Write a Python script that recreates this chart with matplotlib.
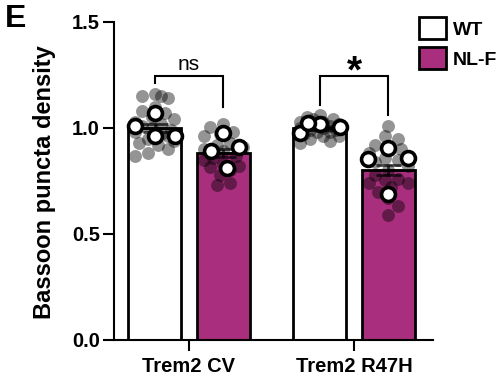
import numpy as np
import matplotlib
matplotlib.use("Agg")
import matplotlib.pyplot as plt
from matplotlib.patches import Patch

plt.rcParams['font.family'] = ['Liberation Sans', 'DejaVu Sans']

# ---- data ----
groups = ["Trem2 CV", "Trem2 R47H"]
genotypes = ["WT", "NL-F"]
bar_means = {"WT": [1.00, 1.00], "NL-F": [0.882, 0.80]}

wt_cv_points = [1.16, 1.15, 1.14, 1.15, 1.10, 1.08, 1.07, 1.05, 1.04, 1.02, 1.01, 1.00,
                0.99, 0.98, 0.97, 0.95, 0.94, 0.93, 0.92, 0.90, 0.88, 0.87, 0.96, 1.03]
nlf_cv_points = [1.02, 1.005, 0.98, 0.97, 0.96, 0.93, 0.92, 0.91, 0.90, 0.89, 0.87, 0.86,
                 0.85, 0.83, 0.82, 0.816, 0.80, 0.78, 0.74, 0.73]
wt_r47h_points = [1.06, 1.05, 1.04, 1.04, 1.03, 1.03, 1.02, 1.02, 1.01, 1.01, 1.00, 1.00,
                  0.99, 0.99, 0.98, 0.98, 0.97, 0.96, 0.96, 0.95, 0.94, 0.93]
nlf_r47h_points = [1.01, 0.96, 0.95, 0.92, 0.91, 0.90, 0.88, 0.86, 0.85, 0.84, 0.82, 0.80,
                   0.78, 0.76, 0.755, 0.74, 0.74, 0.72, 0.70, 0.67, 0.63, 0.59]

wt_cv_animals = [1.07, 1.01, 0.96, 0.96]
nlf_cv_animals = [0.976, 0.89, 0.91, 0.81]
wt_r47h_animals = [1.02, 0.976, 1.005, 1.024]
nlf_r47h_animals = [0.906, 0.854, 0.858, 0.689]

sig_labels = ["ns", "*"]

points = {"WT": [wt_cv_points, wt_r47h_points], "NL-F": [nlf_cv_points, nlf_r47h_points]}
animals = {"WT": [wt_cv_animals, wt_r47h_animals], "NL-F": [nlf_cv_animals, nlf_r47h_animals]}

colors = {"WT": "white", "NL-F": "#A92F7E"}

# ---- figure ----
fig = plt.figure(figsize=(5.00, 3.79), dpi=100)
ax = fig.add_axes([0.228, 0.103, 0.638, 0.839])
ax.set_xlim(-0.4545, 1.479)
ax.set_ylim(0, 1.5)

x = np.arange(len(groups))
offs = {"WT": -0.207, "NL-F": 0.207}
width = 0.32


def swarm(vals, xc, diam_px, overlap, limit_px):
    """place points horizontally to limit overlap (pixel space)"""
    placed = []
    xs = []
    cx = ax.transData.transform((xc, 0))[0]
    step = diam_px * 0.25
    cands = [0.0]
    k = 1
    while k * step <= limit_px:
        cands += [k * step, -k * step]
        k += 1
    for i, v in enumerate(vals):
        yp = ax.transData.transform((xc, v))[1]
        best, bestd, bestc = None, -1, 0.0
        cl = cands if i % 2 == 0 else [-c for c in cands]
        for c in cl:
            px = cx + c
            d = min([np.hypot(px - a, yp - b) for a, b in placed], default=1e9)
            if d >= overlap * diam_px:
                best = c
                break
            if d > bestd:
                bestd, bestc = d, c
        if best is None:
            best = bestc
        placed.append((cx + best, yp))
        xs.append(ax.transData.inverted().transform((cx + best, yp))[0])
    return xs


for g in genotypes:
    for i in range(len(groups)):
        xc = x[i] + offs[g]
        ax.bar(xc, bar_means[g][i], width=width, color=colors[g], edgecolor='black',
               linewidth=2.0, zorder=1)
        pts = points[g][i]
        xs = swarm(pts, xc, 13, 0.85, 20)
        ax.scatter(xs, pts, s=9.3 ** 2, color='black', alpha=0.42, linewidths=0, zorder=2)
        sem = np.std(pts, ddof=1) / np.sqrt(len(pts))
        ax.errorbar(xc, bar_means[g][i], yerr=sem, color='black', alpha=0.7, capsize=9,
                    capthick=2, elinewidth=2, zorder=3)
        ax.plot([xc - 0.08, xc + 0.08], [bar_means[g][i]] * 2, color='black', alpha=0.6, lw=2, zorder=3)
        an = animals[g][i]
        xa = swarm(an, xc, 16, 1.3, 22)
        ax.scatter(xa, an, s=10 ** 2, facecolor='white', edgecolor='black', linewidths=2.6, zorder=4)

# significance brackets
br_top = 1.245
legs = [(1.21, 1.10), (1.108, 1.061)]
for i, lab in enumerate(sig_labels):
    x0, x1 = x[i] + offs["WT"], x[i] + offs["NL-F"]
    ax.plot([x0, x0, x1, x1], [legs[i][0], br_top, br_top, legs[i][1]], color='black',
            lw=1.5, solid_joinstyle='miter', clip_on=False)
ax.text(x[0], 1.272, sig_labels[0], ha='center', va='baseline', fontsize=15)
ax.text(x[1], 1.262, sig_labels[1], ha='center', va='center', fontsize=28, fontweight='bold')

# axes styling
for s in ['top', 'right']:
    ax.spines[s].set_visible(False)
for s in ['left', 'bottom']:
    ax.spines[s].set_linewidth(1.5)
ax.set_yticks([0, 0.5, 1.0, 1.5])
ax.set_yticklabels(["0.0", "0.5", "1.0", "1.5"])
ax.set_xticks(x)
ax.set_xticklabels(groups)
ax.tick_params(axis='both', length=8, width=1.5)
ax.tick_params(axis='y', pad=2)
ax.tick_params(axis='x', pad=4)
for lbl in ax.get_xticklabels() + ax.get_yticklabels():
    lbl.set_fontweight('bold')
    lbl.set_fontsize(14.5)

fig.text(0.09, 0.52, "Bassoon puncta density", rotation=90, ha='center', va='center',
         fontsize=17, fontweight='bold')
fig.text(0.01, 0.99, "E", ha='left', va='top', fontsize=23, fontweight='bold')

handles = [Patch(facecolor=colors[g], edgecolor='black', linewidth=2) for g in genotypes]
leg = fig.legend(handles, genotypes, loc='upper left', bbox_to_anchor=(0.838, 0.955),
                 frameon=False, borderpad=0, borderaxespad=0, handlelength=1.39,
                 handleheight=1.39, handletextpad=0.36, labelspacing=0.4,
                 prop={'size': 14, 'weight': 'bold'})

fig.savefig("out.png", dpi=100)
